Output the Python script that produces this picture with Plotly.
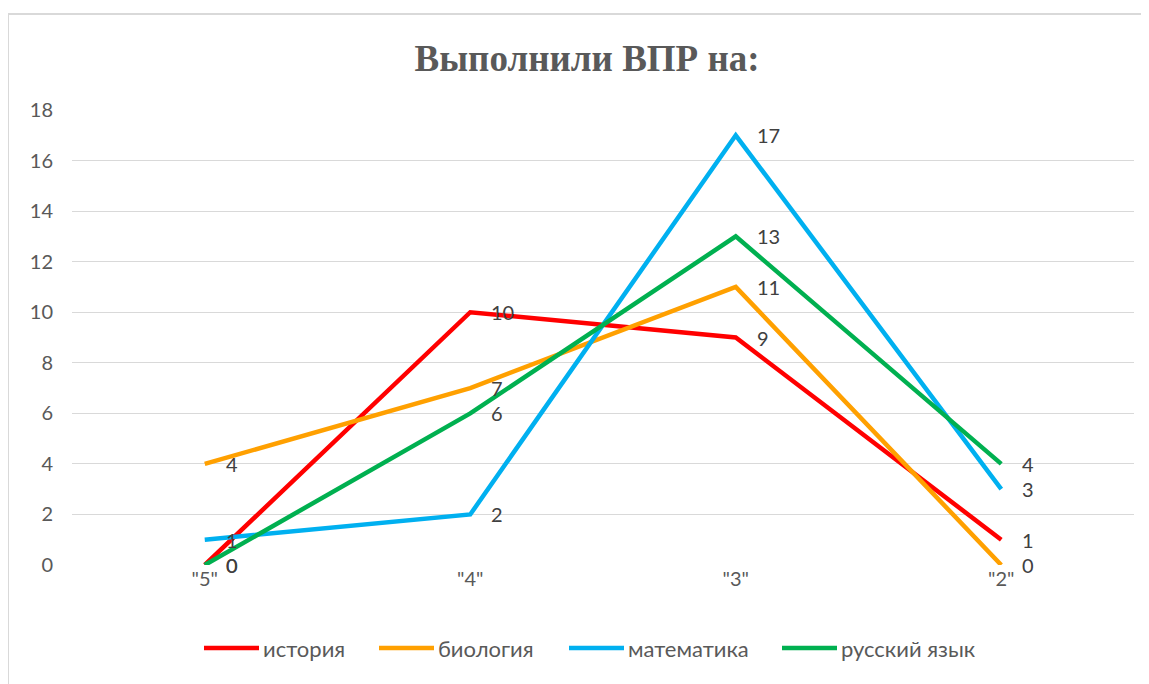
import plotly.graph_objects as go

categories = ['"5"', '"4"', '"3"', '"2"']
series_names = ["история", "биология", "математика", "русский язык"]
istoriya = [0, 10, 9, 1]
biologiya = [4, 7, 11, 0]
matematika = [1, 2, 17, 3]
russkiy = [0, 6, 13, 4]
colors = ["#FF0000", "#FFA000", "#00B0F0", "#00B050"]
y_ticks = list(range(0, 19, 2))

all_series = [istoriya, biologiya, matematika, russkiy]

# layout constants (pixel geometry of the figure)
W, H = 1149, 684
ML, MR, MT, MB = 64, 23, 102, 127
PW, PH = W - ML - MR, H - MT - MB
legend_x_px = [196, 371, 561, 774]   # start of each legend line, figure px
legend_y_px = 640
legend_line_len = 55
FONT = "Lato, Carlito, sans-serif"


def px_x(p):
    return (p - ML) / PW


def px_y(p):
    return (H - MB - p) / PH


fig = go.Figure()
for name, vals, col in zip(series_names, all_series, colors):
    fig.add_trace(go.Scatter(
        x=categories, y=vals, name=name, mode="lines",
        line=dict(color=col, width=4.5), cliponaxis=False, showlegend=False,
    ))

annotations = []
for vals in all_series:
    for c, v in zip(categories, vals):
        annotations.append(dict(
            x=c, y=v, xref="x", yref="y", text=str(v), showarrow=False,
            xanchor="left", yanchor="middle", xshift=19,
            font=dict(family=FONT, size=20, color="#404040"),
        ))

shapes = [dict(type="rect", xref="paper", yref="paper",
               x0=px_x(0), x1=px_x(1150), y0=px_y(690), y1=px_y(6),
               line=dict(color="#D9D9D9", width=2), layer="below")]

# manual legend built from the series names and colours
for name, col, lx in zip(series_names, colors, legend_x_px):
    shapes.append(dict(type="line", xref="paper", yref="paper",
                       x0=px_x(lx), x1=px_x(lx + legend_line_len),
                       y0=px_y(legend_y_px), y1=px_y(legend_y_px),
                       line=dict(color=col, width=4.5)))
    annotations.append(dict(
        x=px_x(lx + legend_line_len + 2), y=px_y(legend_y_px),
        xref="paper", yref="paper", text=name, showarrow=False,
        xanchor="left", yanchor="middle",
        font=dict(family=FONT, size=22, color="#595959"),
    ))

fig.update_layout(
    width=W, height=H,
    paper_bgcolor="white", plot_bgcolor="white",
    margin=dict(l=ML, r=MR, t=MT, b=MB),
    title=dict(
        text="<b>Выполнили ВПР на:</b>",
        font=dict(family="Liberation Serif, Times New Roman, serif", size=37, color="#595959"),
        x=0.504, xanchor="center", y=0.927, yanchor="middle",
    ),
    showlegend=False,
    annotations=annotations,
    shapes=shapes,
)
fig.update_xaxes(
    type="category", range=[-0.5, 3.5], showgrid=False, zeroline=False,
    showline=False, ticks="",
    tickfont=dict(family=FONT, size=20, color="#595959"),
    ticklabelstandoff=0,
)
fig.update_yaxes(
    range=[0, 18], tickvals=y_ticks, showgrid=True, gridcolor="#D9D9D9",
    gridwidth=1, zeroline=False, showline=False, ticks="",
    tickfont=dict(family=FONT, size=20, color="#595959"),
    ticklabelstandoff=18,
)

fig.write_html("out.html")
